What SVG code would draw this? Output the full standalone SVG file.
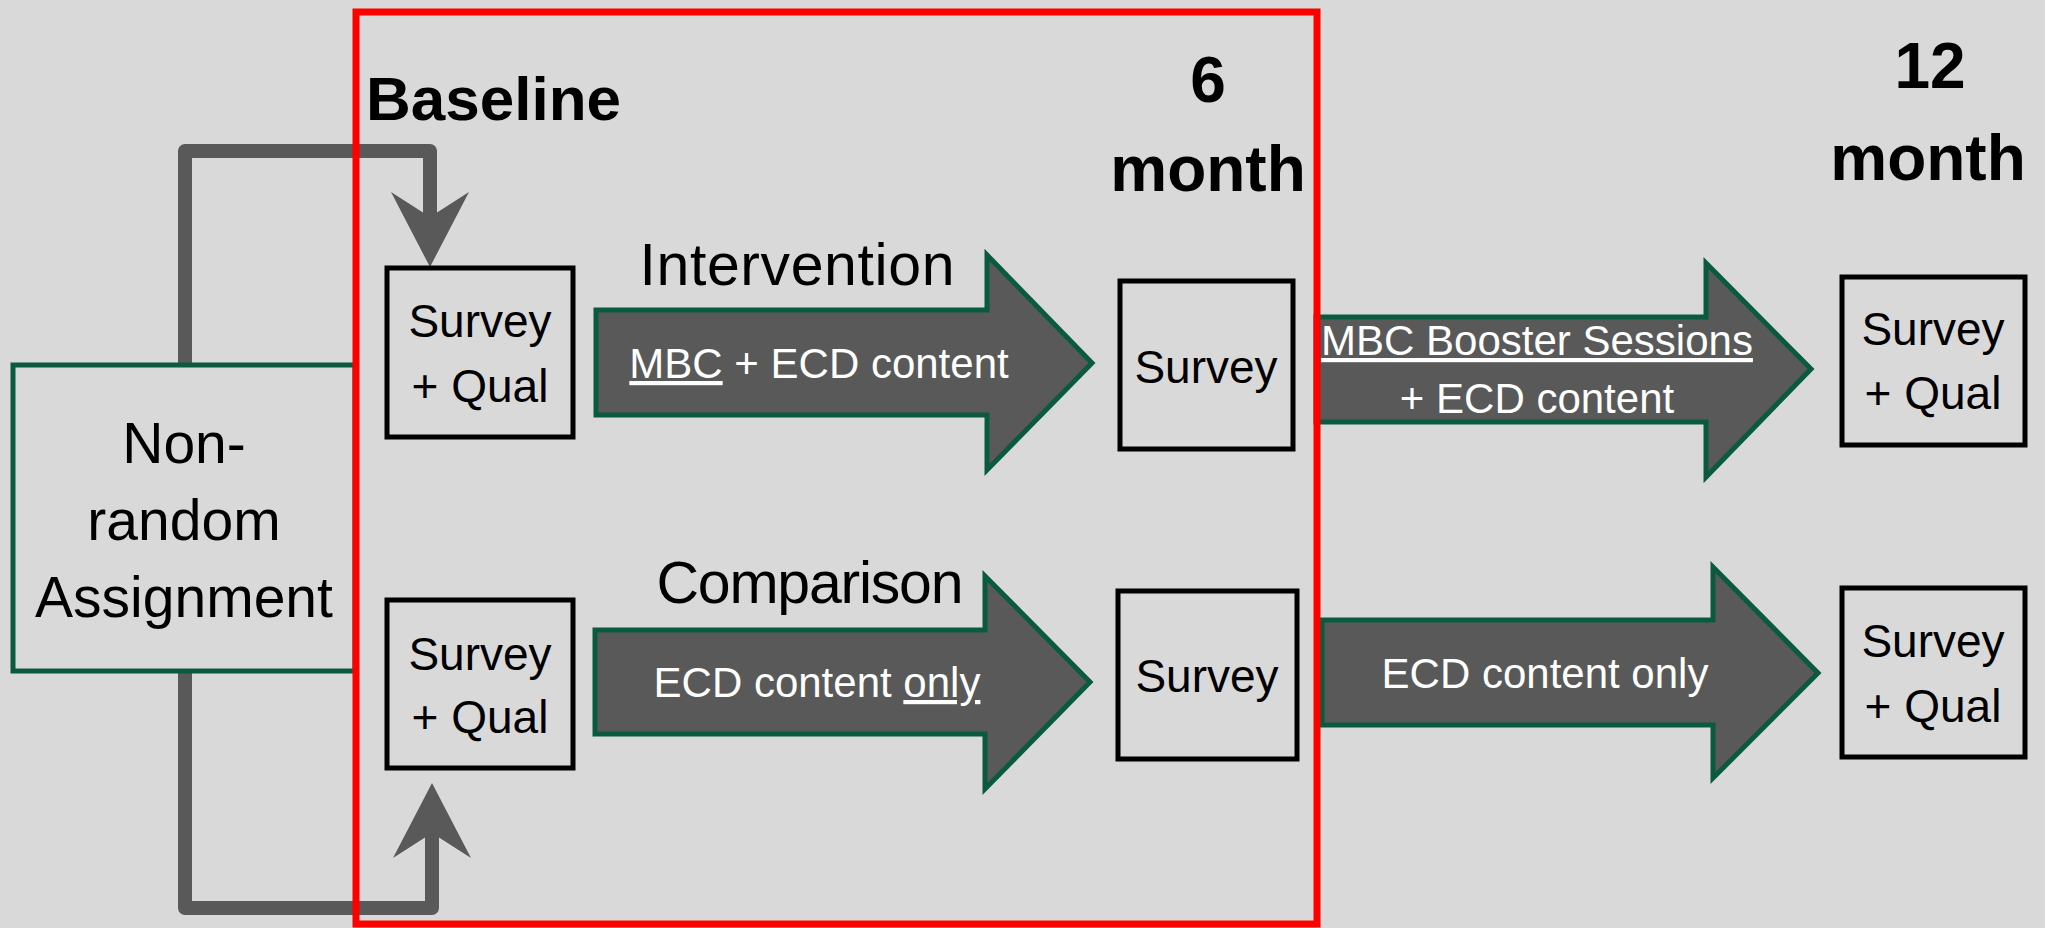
<svg xmlns="http://www.w3.org/2000/svg" width="2045" height="928" viewBox="0 0 2045 928">
<style>
text{font-family:"Liberation Sans",Arial,sans-serif;}
.hdr{font-weight:bold;fill:#000;text-anchor:middle;}
.lbl{fill:#000;text-anchor:middle;}
.box{fill:none;stroke:#000;stroke-width:5;}
.arrow{fill:#595959;stroke:#0a5a40;stroke-width:5;stroke-linejoin:miter;}
.wt{fill:#fff;font-size:42px;text-anchor:middle;}
.conn{fill:none;stroke:#595959;stroke-width:14;stroke-linejoin:round;}
</style>
<defs>
<marker id="hd" markerUnits="userSpaceOnUse" orient="auto" viewBox="-30 -42 85 84" markerWidth="85" markerHeight="84" refX="10" refY="0">
<path d="M50,0 L-25,-39 L0,0 L-25,39 Z" fill="#595959"/>
</marker>
</defs>
<rect x="0" y="0" width="2045" height="928" fill="#d9d9d9"/>

<g id="connectors">
<path class="conn" d="M185,365 V151 H430 V227" marker-end="url(#hd)"/>
<path class="conn" d="M185,671 V908 H432 V823" marker-end="url(#hd)"/>
</g>

<g id="assignment">
<rect x="13" y="365" width="342" height="306" fill="none" stroke="#0a5a40" stroke-width="5"/>
<text class="lbl" x="184" y="463" font-size="57">Non-</text>
<text class="lbl" x="184" y="540" font-size="57">random</text>
<text class="lbl" x="184" y="617" font-size="57">Assignment</text>
</g>

<g id="header-baseline"><text x="366" y="120" font-size="62" font-weight="bold">Baseline</text></g>
<g id="header-6month">
<text class="hdr" x="1208" y="102" font-size="64">6</text>
<text class="hdr" x="1208" y="191" font-size="64">month</text>
</g>
<g id="header-12month">
<text class="hdr" x="1930" y="88" font-size="64">12</text>
<text class="hdr" x="1928" y="180" font-size="64">month</text>
</g>

<g id="baseline-int">
<rect class="box" x="387" y="268" width="186" height="169"/>
<text class="lbl" x="480" y="337" font-size="46">Survey</text>
<text class="lbl" x="480" y="402" font-size="46">+ Qual</text>
</g>
<g id="baseline-comp">
<rect class="box" x="387" y="600" width="186" height="168"/>
<text class="lbl" x="480" y="670" font-size="46">Survey</text>
<text class="lbl" x="480" y="733" font-size="46">+ Qual</text>
</g>

<g id="arrow-intervention">
<text class="lbl" x="797" y="285" font-size="59" textLength="315">Intervention</text>
<path class="arrow" d="M596,310 H987 V255 L1092,363 L987,470 V415 H596 Z"/>
<text class="wt" x="819" y="378"><tspan text-decoration="underline">MBC</tspan> + ECD content</text>
</g>
<g id="arrow-comparison">
<text class="lbl" x="810" y="603" font-size="59" textLength="307">Comparison</text>
<path class="arrow" d="M595,630 H985 V576 L1090,682 L985,789 V734 H595 Z"/>
<text class="wt" x="817" y="697">ECD content <tspan text-decoration="underline">only</tspan></text>
</g>

<g id="sixmonth-int">
<rect class="box" x="1120" y="281" width="173" height="168"/>
<text class="lbl" x="1206" y="383" font-size="46">Survey</text>
</g>
<g id="sixmonth-comp">
<rect class="box" x="1118" y="591" width="179" height="168"/>
<text class="lbl" x="1207" y="692" font-size="46">Survey</text>
</g>

<g id="arrow-booster">
<path class="arrow" d="M1316,317 H1706 V263 L1811,369 L1706,477 V422 H1316 Z"/>
<text class="wt" x="1537" y="355" font-size="40"><tspan text-decoration="underline">MBC Booster Sessions</tspan></text>
<text class="wt" x="1537" y="413">+ ECD content</text>
</g>
<g id="arrow-ecd-only">
<path class="arrow" d="M1322,620 H1713 V567 L1818,673 L1713,778 V725 H1322 Z"/>
<text class="wt" x="1545" y="688">ECD content only</text>
</g>

<g id="twelvemonth-int">
<rect class="box" x="1842" y="277" width="183" height="168"/>
<text class="lbl" x="1933" y="345" font-size="46">Survey</text>
<text class="lbl" x="1933" y="409" font-size="46">+ Qual</text>
</g>
<g id="twelvemonth-comp">
<rect class="box" x="1842" y="588" width="183" height="169"/>
<text class="lbl" x="1933" y="657" font-size="46">Survey</text>
<text class="lbl" x="1933" y="722" font-size="46">+ Qual</text>
</g>

<g id="sixmonth-frame">
<rect x="356" y="12" width="961" height="912" fill="none" stroke="#ff0000" stroke-width="7"/>
</g>
</svg>
